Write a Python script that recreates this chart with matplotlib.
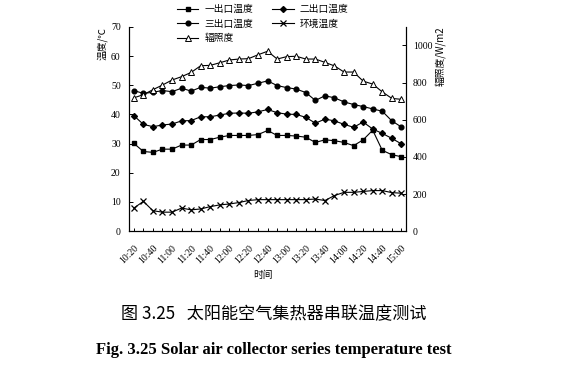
import matplotlib
matplotlib.use('Agg')
import matplotlib.pyplot as plt

# time points, every 10 min
times = ['10:20', '10:30', '10:40', '10:50', '11:00', '11:10', '11:20', '11:30',
         '11:40', '11:50', '12:00', '12:10', '12:20', '12:30', '12:40', '12:50',
         '13:00', '13:10', '13:20', '13:30', '13:40', '13:50', '14:00', '14:10',
         '14:20', '14:30', '14:40', '14:50', '15:00']

# outlet temperatures (°C)
t_out1 = [30.1, 27.3, 27.0, 28.1, 28.1, 29.5, 29.5, 31.4, 31.4, 32.2, 32.8, 32.8,
          32.8, 33.1, 34.5, 32.8, 32.8, 32.6, 32.2, 30.4, 31.3, 31.0, 30.4, 29.3,
          31.3, 34.6, 27.7, 26.2, 25.5]
t_out2 = [39.6, 36.6, 35.8, 36.4, 36.7, 37.8, 37.9, 39.2, 39.2, 39.8, 40.4, 40.5,
          40.4, 40.9, 41.7, 40.6, 40.1, 40.0, 39.0, 37.0, 38.4, 37.8, 36.6, 35.6,
          37.4, 35.0, 33.5, 31.8, 29.9]
t_out3 = [48.2, 47.2, 47.6, 48.2, 47.8, 49.0, 48.0, 49.3, 49.0, 49.5, 49.9, 50.1,
          49.9, 50.7, 51.5, 49.9, 49.2, 48.7, 47.5, 44.8, 46.4, 45.7, 44.3, 43.4,
          42.7, 41.9, 41.1, 37.8, 35.7]
t_env = [7.9, 10.2, 7.0, 6.5, 6.5, 7.9, 7.3, 7.6, 8.4, 9.0, 9.3, 9.8, 10.5, 10.8,
         10.8, 10.8, 10.8, 10.8, 10.8, 11.0, 10.5, 12.2, 13.3, 13.3, 13.6, 13.9,
         13.9, 13.2, 13.0]
# irradiance (W/m2)
irrad = [718, 735, 762, 787, 814, 832, 855, 891, 893, 907, 922, 927, 929, 950, 969,
         927, 940, 942, 927, 927, 909, 890, 857, 857, 808, 792, 750, 715, 710]

labels = ['一出口温度', '二出口温度', '三出口温度', '环境温度', '辐照度']

serif = 'Liberation Serif'
cjk = ['Noto Sans CJK SC', 'DejaVu Sans']

fig = plt.figure(figsize=(5.61, 3.74), dpi=100)
ax = fig.add_axes([0.230, 0.382, 0.494, 0.546])
ax2 = ax.twinx()

x = list(range(len(times)))
kw = dict(color='black', lw=0.8)
l1, = ax.plot(x, t_out1, marker='s', ms=3.2, label=labels[0], **kw)
l2, = ax.plot(x, t_out2, marker='D', ms=3.0, label=labels[1], **kw)
l3, = ax.plot(x, t_out3, marker='o', ms=3.4, label=labels[2], **kw)
l4, = ax.plot(x, t_env, marker='x', ms=4.0, mew=0.9, label=labels[3], **kw)
l5, = ax2.plot(x, irrad, marker='^', ms=4.0, mfc='white', mew=0.7, label=labels[4], **kw)

ax.set_xlim(-0.5, len(times) - 0.5)
ax.set_ylim(0, 70)
ax2.set_ylim(0, 1100)
ax.set_yticks(range(0, 71, 10))
ax2.set_yticks(range(0, 1001, 200))
ax.set_xticks(x)
ax.set_xticklabels([t if i % 2 == 0 else '' for i, t in enumerate(times)],
                   rotation=45, ha='right', rotation_mode='anchor')

for a in (ax, ax2):
    a.spines['top'].set_visible(False)
    for s in a.spines.values():
        s.set_linewidth(0.8)
ax.tick_params(axis='both', direction='in', length=3, width=0.7, labelsize=7, pad=6)
ax.tick_params(axis='x', pad=9, length=2.5)
ax2.tick_params(axis='y', direction='in', length=3, width=0.7, labelsize=7, pad=5)
for t in ax.get_xticklabels() + ax.get_yticklabels() + ax2.get_yticklabels():
    t.set_family(serif)

fig.text(0.183, 0.885, '温度/℃', rotation=90, ha='center', va='center',
         family=cjk, fontsize=7)
fig.text(0.787, 0.850, '辐照度/W/m2', rotation=90, ha='center', va='center',
         family=cjk, fontsize=7)
fig.text(0.468, 0.265, '时间', ha='center', va='center', family=cjk, fontsize=7)

fig.legend(handles=[l1, l3, l5, l2, l4], ncol=2, loc='upper left',
           bbox_to_anchor=(0.300, 1.012), frameon=False,
           prop={'family': cjk, 'size': 7}, handlelength=2.2,
           columnspacing=2.0, labelspacing=0.45, handletextpad=0.6)

fig.text(0.488, 0.160, '图 3.25   太阳能空气集热器串联温度测试', ha='center', va='center',
         family=cjk, fontsize=12.3)
fig.text(0.488, 0.064, 'Fig. 3.25 Solar air collector series temperature test',
         ha='center', va='center', family=serif, fontweight='bold', fontsize=12)

fig.savefig('out.png', dpi=100)
